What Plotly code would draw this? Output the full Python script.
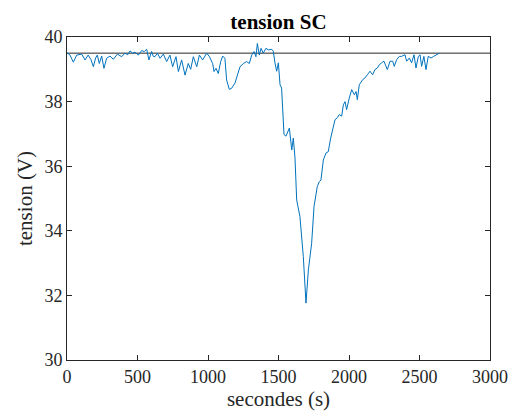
import plotly.graph_objects as go

# temps (s) et tension (V)
temps = [0, 20, 45, 69, 104, 128, 150, 170, 187, 203, 215, 229, 246, 262, 281, 305, 329, 357,
         388, 411, 430, 447, 465, 482, 506, 529, 548, 565, 581, 600, 612, 624, 641, 660, 683,
         707, 730, 749, 773, 790, 813, 837, 860, 877, 896, 920, 939, 962, 991, 1010, 1033,
         1043, 1057, 1073, 1090, 1104, 1120, 1132, 1151, 1167, 1191, 1210, 1227, 1251, 1274,
         1293, 1310, 1326, 1340, 1350, 1364, 1376, 1392, 1411, 1428, 1452, 1463, 1475, 1487,
         1499, 1511, 1522, 1530, 1539, 1553, 1577, 1594, 1605, 1617, 1629, 1652, 1676, 1695,
         1712, 1735, 1752, 1775, 1789, 1801, 1818, 1837, 1853, 1870, 1884, 1901, 1917, 1931,
         1948, 1960, 1972, 1983, 2002, 2019, 2038, 2050, 2059, 2073, 2097, 2113, 2130, 2149,
         2168, 2184, 2201, 2215, 2232, 2248, 2272, 2291, 2310, 2321, 2338, 2357, 2372, 2397,
         2409, 2428, 2444, 2461, 2475, 2492, 2504, 2515, 2531, 2546, 2562, 2582, 2600, 2618,
         2641]
tension = [39.51, 39.45, 39.22, 39.44, 39.47, 39.29, 39.44, 39.30, 39.08, 39.35, 39.44, 39.18,
           39.41, 39.03, 39.34, 39.41, 39.31, 39.47, 39.39, 39.50, 39.45, 39.57, 39.50, 39.53,
           39.44, 39.58, 39.55, 39.62, 39.29, 39.55, 39.40, 39.39, 39.50, 39.34, 39.47, 39.24,
           39.44, 39.08, 39.39, 38.93, 39.29, 38.82, 39.18, 39.00, 39.39, 39.08, 39.44, 39.29,
           39.50, 39.39, 39.18, 38.93, 39.03, 38.87, 39.24, 39.41, 39.34, 38.67, 38.38, 38.41,
           38.57, 38.85, 39.08, 39.18, 39.24, 39.18, 39.44, 39.55, 39.39, 39.80, 39.44, 39.65,
           39.50, 39.65, 39.60, 39.62, 39.56, 39.20, 38.94, 39.20, 38.52, 38.42, 37.90, 36.98,
           36.93, 37.18, 36.50, 36.87, 36.25, 34.95, 34.44, 33.20, 31.76, 32.79, 33.61, 34.75,
           35.37, 35.52, 35.57, 36.19, 36.41, 36.45, 36.87, 37.12, 37.44, 37.50, 37.60, 37.55,
           37.90, 38.00, 37.75, 38.11, 38.37, 38.21, 38.31, 38.06, 38.52, 38.68, 38.73, 38.83,
           38.94, 38.83, 38.99, 39.04, 39.14, 39.20, 39.25, 38.99, 39.25, 39.25, 39.09, 39.30,
           39.40, 39.40, 39.45, 39.25, 39.35, 39.20, 39.45, 39.04, 39.40, 39.45, 39.09, 39.40,
           38.99, 39.40, 39.35, 39.40, 39.45, 39.50]

# tension de référence
ref_x = [0, 3000]
ref_y = [39.5, 39.5]

x_ticks = [0, 500, 1000, 1500, 2000, 2500, 3000]
y_ticks = [30, 32, 34, 36, 38, 40]

police = "Liberation Serif, Times New Roman, serif"
gris = "#262626"

fig = go.Figure()
fig.add_trace(go.Scatter(x=ref_x, y=ref_y, mode="lines",
                         line=dict(color=gris, width=1), showlegend=False))
fig.add_trace(go.Scatter(x=temps, y=tension, mode="lines",
                         line=dict(color="#0072BD", width=1), showlegend=False))

axe = dict(showgrid=False, zeroline=False, showline=True, linecolor=gris, linewidth=1,
           mirror="ticks", ticks="inside", ticklen=5, tickcolor=gris,
           tickfont=dict(family=police, size=18, color=gris))

# la page ajoute 8 px de marge au corps : marges décalées en conséquence
fig.update_layout(
    width=518, height=414,
    margin=dict(l=59, r=36, t=29, b=62),
    paper_bgcolor="white", plot_bgcolor="white",
    title=dict(text="<b>tension SC</b>", x=0.5, xref="paper", y=1 - 14 / 414,
               yref="container", yanchor="middle",
               font=dict(family=police, size=21, color="black")),
    xaxis=dict(axe, range=[0, 3000], tickvals=x_ticks,
               title=dict(text="secondes (s)", standoff=4,
                          font=dict(family=police, size=21, color=gris))),
    yaxis=dict(axe, range=[30, 40], tickvals=y_ticks,
               title=dict(text="tension (V)", standoff=6,
                          font=dict(family=police, size=21, color=gris))),
)

fig.write_html("out.html")
